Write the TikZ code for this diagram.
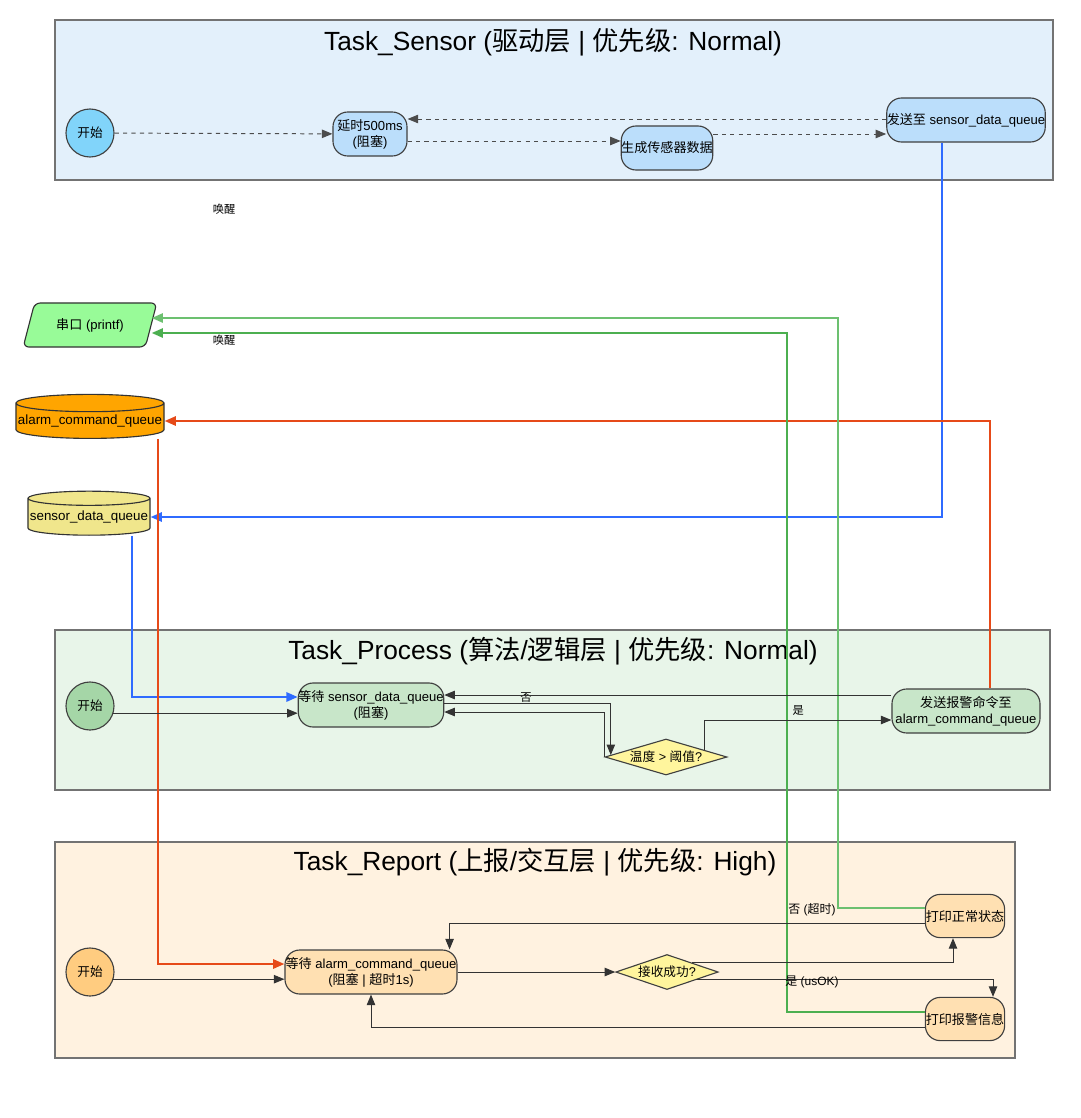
\documentclass[tikz,border=0pt]{standalone}
\usepackage{fontspec}
\setmainfont{Liberation Sans}
\newfontfamily\cjk{Noto Sans CJK SC}
\newcommand{\zh}[1]{{\cjk #1}}
\usepackage{xcolor}
\usepackage{tikz}
\usetikzlibrary{shapes.geometric, arrows.meta}

\definecolor{sensorbg}{HTML}{E3F0FB}
\definecolor{processbg}{HTML}{E8F5E9}
\definecolor{reportbg}{HTML}{FFF2E0}
\definecolor{sstart}{HTML}{81D4FA}
\definecolor{sbox}{HTML}{BBDEFB}
\definecolor{pstart}{HTML}{A5D6A7}
\definecolor{pbox}{HTML}{C8E6C9}
\definecolor{rstart}{HTML}{FFCC80}
\definecolor{rbox}{HTML}{FFE0B2}
\definecolor{decy}{HTML}{FFF59D}
\definecolor{serialg}{HTML}{98FB98}
\definecolor{aq}{HTML}{FFA500}
\definecolor{sq}{HTML}{F0E68C}
\definecolor{flowblue}{HTML}{2F6BFF}
\definecolor{flowred}{HTML}{E64A19}
\definecolor{flowgreen}{HTML}{4CAF50}
\definecolor{flowgreenlt}{HTML}{6CC070}

\begin{document}
\begin{tikzpicture}[
  x=0.025cm, y=-0.025cm,
  >={Triangle[length=7.5pt,width=6pt]},
  lane/.style={draw=black!55, line width=1pt},
  lanetitle/.style={font=\fontsize{18.7}{22}\selectfont, inner sep=0pt},
  startc/.style={circle, draw=black!75, line width=0.8pt, minimum size=1.2cm, inner sep=0pt, font=\fontsize{9}{10}\selectfont},
  procbox/.style={rectangle, rounded corners=0.37cm, draw=black!75, line width=0.8pt, minimum height=1.1cm, inner sep=0pt, align=center, font=\fontsize{9.3}{11.5}\selectfont},
  decision/.style={diamond, aspect=3.3, draw=black!75, line width=0.8pt, fill=decy, minimum width=3.05cm, minimum height=0.9cm, inner sep=0.5pt, font=\fontsize{9}{10}\selectfont},
  queue/.style={cylinder, shape border rotate=90, aspect=0.12, draw=black!80, line width=0.8pt, minimum height=1.1cm, inner sep=0pt, font=\fontsize{9.5}{10}\selectfont},
  serialio/.style={trapezium, trapezium left angle=63, trapezium right angle=117, trapezium stretches=true, rounded corners=4pt, draw=black!80, line width=0.8pt, fill=serialg, minimum width=3.35cm, minimum height=1.1cm, inner sep=0pt, font=\fontsize{9.3}{10}\selectfont},
  lbl/.style={font=\fontsize{8}{9}\selectfont, inner sep=1pt},
  arrow/.style={draw=black!80, line width=0.7pt, ->},
  dashed_arrow/.style={draw=black!70, line width=0.7pt, ->, dashed},
  bluearrow/.style={draw=flowblue, line width=1.6pt, -{Triangle[length=8pt,width=6.5pt]}},
  redarrow/.style={draw=flowred, line width=1.6pt, -{Triangle[length=8pt,width=6.5pt]}},
  greenarrow/.style={draw=flowgreen, line width=1.6pt, -{Triangle[length=8pt,width=6.5pt]}}
]
\useasboundingbox[fill=white] (0,0) rectangle (1080,1118);

% Lanes
\draw[lane, fill=sensorbg] (55,20) rectangle (1053,180);
\node[lanetitle] (t_sensor) at (553,42) {Task\_Sensor (\zh{驱动层} | \zh{优先级}: Normal)};
\draw[lane, fill=processbg] (55,630) rectangle (1050,790);
\node[lanetitle] (t_process) at (553,651) {Task\_Process (\zh{算法}/\zh{逻辑层} | \zh{优先级}: Normal)};
\draw[lane, fill=reportbg] (55,842) rectangle (1015,1058);
\node[lanetitle] (t_report) at (535,862) {Task\_Report (\zh{上报}/\zh{交互层} | \zh{优先级}: High)};

% Task_Sensor
\node (s_start) [startc, fill=sstart] at (90,133) {\zh{开始}};
\node (s_delay) [procbox, fill=sbox, minimum width=1.85cm] at (370,134) {\zh{延时}500ms\\(\zh{阻塞})};
\node (s_gen) [procbox, fill=sbox, minimum width=2.25cm] at (667,148) {\zh{生成传感器数据}};
\node (s_send) [procbox, fill=sbox, minimum width=3.9cm] at (966,120) {\zh{发送至} sensor\_data\_queue};

% Shared objects
\node (serial) [serialio] at (90,325) {\zh{串口} (printf)};
\node (aqueue) [queue, fill=aq, minimum width=3.7cm] at (90,421) {alarm\_command\_queue};
\node (squeue) [queue, fill=sq, minimum width=3.05cm] at (89,517) {sensor\_data\_queue};

% Task_Process
\node (p_start) [startc, fill=pstart] at (90,706) {\zh{开始}};
\node (p_wait) [procbox, fill=pbox, minimum width=3.625cm] at (371,705) {\zh{等待} sensor\_data\_queue\\(\zh{阻塞})};
\node (p_dec) [decision] at (666,757) {\zh{温度} > \zh{阈值}?};
\node (p_send) [procbox, fill=pbox, minimum width=3.7cm] at (966,711) {\zh{发送报警命令至}\\alarm\_command\_queue};

% Task_Report
\node (r_start) [startc, fill=rstart] at (90,972) {\zh{开始}};
\node (r_wait) [procbox, fill=rbox, minimum width=4.3cm] at (371,972) {\zh{等待} alarm\_command\_queue\\(\zh{阻塞} | \zh{超时}1s)};
\node (r_dec) [decision, minimum width=2.45cm, minimum height=0.875cm] at (667,972) {\zh{接收成功}?};
\node (r_normal) [procbox, fill=rbox, minimum width=1.98cm, minimum height=1.08cm] at (965,916) {\zh{打印正常状态}};
\node (r_alarm) [procbox, fill=rbox, minimum width=1.98cm, minimum height=1.08cm] at (965,1019) {\zh{打印报警信息}};

% Sensor arrows
\draw [dashed_arrow] (s_start) -- (s_delay);
\draw [dashed_arrow] (s_delay.east |- 0,141) -- (s_gen.west |- 0,141);
\draw [dashed_arrow] (s_gen.east |- 0,134) -- (s_send.west |- 0,134);
\draw [dashed_arrow] (s_send.west |- 0,119) -- (s_delay.east |- 0,119);

% Queue / serial arrows
\draw [bluearrow] (s_send.south -| 942,0) |- (squeue.east);
\draw [bluearrow] (squeue.south -| 132,0) |- (p_wait.west |- 0,697);
\draw [redarrow] (p_send.north -| 990,0) |- (aqueue.east);
\draw [redarrow] (aqueue.south -| 158,0) |- (r_wait.west |- 0,964);
\draw [greenarrow, draw=flowgreenlt] (r_normal.west |- 0,908) -| (838,318) -- (serial.east |- 0,318);
\draw [greenarrow] (r_alarm.west |- 0,1012) -| (787,333) -- (serial.east |- 0,333);
\node (wake1) [lbl] at (224,209) {\zh{唤醒}};
\node (wake2) [lbl] at (224,340) {\zh{唤醒}};

% Process arrows
\draw [arrow] (p_start.-17) -- (p_wait.west |- p_start.-17);
\draw [arrow] (p_wait.east |- 0,703) -| (p_dec.178);
\draw [arrow] (p_dec.west) |- (p_wait.east |- 0,712);
\node (no1) [lbl] at (526,698) {\zh{否}};
\draw [arrow] (p_dec.10) |- (p_send.west |- 0,720) node[lbl, pos=0.75, above=2pt] (yes1) {\zh{是}};
\draw [arrow] (p_send.west |- 0,695) -- (p_wait.east |- 0,695);

% Report arrows
\draw [arrow] (r_start.-17) -- (r_wait.west |- r_start.-17);
\draw [arrow] (r_wait.east) -- (r_dec.west);
\draw [arrow] (r_dec.20) -| ([xshift=-0.3cm]r_normal.south);
\node (no2) [lbl, font=\fontsize{8.5}{9}\selectfont] at (812,910) {\zh{否} (\zh{超时})};
\draw [arrow] (r_dec.-15) -| ([xshift=0.7cm]r_alarm.north);
\node (yes2) [lbl, font=\fontsize{8.5}{9}\selectfont] at (812,982) {\zh{是} (usOK)};
\draw [arrow] (r_normal.west |- 0,923) -| ([xshift=-0.2cm]r_wait.north east);
\draw [arrow] (r_alarm.west |- 0,1027) -| (r_wait.south);

\end{tikzpicture}
\end{document}
